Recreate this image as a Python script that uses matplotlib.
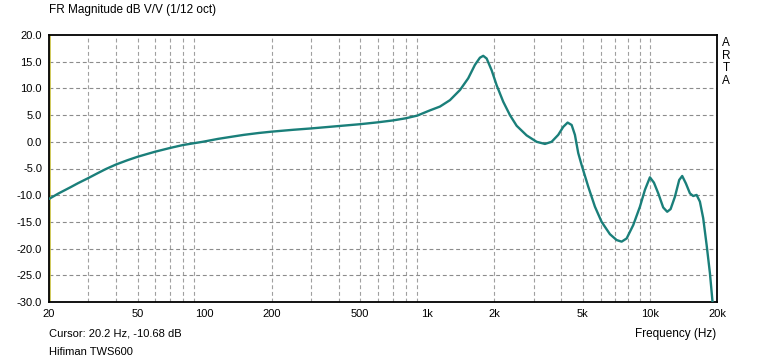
import numpy as np
import matplotlib.pyplot as plt
from matplotlib.ticker import FixedLocator, NullFormatter, NullLocator

plt.rcParams['font.family'] = ['Liberation Sans', 'DejaVu Sans']

# frequency response (Hz, dB)
freq = [20, 22, 25, 27, 30, 33, 36, 40, 45, 50, 55, 60, 70, 80, 90, 98, 115, 130, 150,
        175, 200, 250, 300, 400, 500, 600, 700, 800, 900,
        1030, 1140, 1264, 1402, 1527, 1636, 1723, 1783, 1847, 1945, 2048,
        2193, 2350, 2519, 2793, 3097, 3375, 3616, 3873, 4079, 4267, 4449, 4602, 4762,
        4932, 5282, 5660, 6066, 6609, 7084, 7459, 7856, 8410, 9014, 9492, 9995, 10418,
        10894, 11467, 11951, 12378, 12941, 13530, 13957, 14500, 15114, 15637, 16196,
        16758, 17340, 17963, 18589, 19118]
mag = [-10.7, -9.7, -8.5, -7.75, -6.8, -5.9, -5.1, -4.25, -3.45, -2.8, -2.3, -1.85, -1.15,
       -0.6, -0.25, 0.0, 0.55, 0.9, 1.3, 1.65, 1.9, 2.25, 2.5, 2.95, 3.3, 3.65, 4.0, 4.4,
       4.9, 5.9, 6.6, 7.8, 9.7, 11.9, 14.4, 15.75,
       16.1, 15.6, 13.4, 10.6, 7.5, 5.0, 3.0, 1.2, 0.0, -0.4, 0.0, 1.3, 2.8, 3.6, 3.15,
       1.3, -2.1, -4.35, -8.4, -12.15, -15.0, -17.3, -18.4, -18.7, -18.1, -15.6, -12.15,
       -9.0, -6.65, -7.65, -9.65, -12.3, -13.1, -12.6, -10.3, -7.15, -6.4, -7.8, -9.65,
       -10.15, -9.95, -11.2, -14.3, -19.3, -24.6, -30.2]

xticks = [20, 50, 100, 200, 500, 1000, 2000, 5000, 10000, 20000]
xlabels = ['20', '50', '100', '200', '500', '1k', '2k', '5k', '10k', '20k']
yticks = [20, 15, 10, 5, 0, -5, -10, -15, -20, -25, -30]

# vertical grid: 2..9 of each decade up to 10k
grid_x = [m * d for d in (10, 100, 1000) for m in range(2, 10) if 20 < m * d] + [10000]

fig = plt.figure(figsize=(7.65, 3.62), dpi=100)
ax = fig.add_axes([49 / 765, 1 - 302 / 362, 668 / 765, 267 / 362])

ax.set_xscale('log')
ax.set_xlim(20, 20000)
ax.set_ylim(-30, 20)

for g in grid_x:
    ax.axvline(g, color='#a0a0a0', linestyle=(0, (3.5, 2.5)), linewidth=0.8, zorder=1)
for g in yticks[1:-1]:
    ax.axhline(g, color='#8c8c8c', linestyle=(0, (3.5, 2.5)), linewidth=0.8, zorder=1)

ax.axvline(20.2, color='#c8c040', linewidth=1.2, zorder=2)
ax.plot(freq, mag, color='#1a7f7a', linewidth=1.7, zorder=3,
        solid_joinstyle='round', solid_capstyle='round')

ax.xaxis.set_major_locator(FixedLocator(xticks))
ax.set_xticklabels(xlabels)
ax.xaxis.set_minor_locator(NullLocator())
ax.xaxis.set_minor_formatter(NullFormatter())
ax.set_yticks(yticks)
ax.set_yticklabels([f'{v:.1f}' for v in yticks])
ax.tick_params(length=0, labelsize=8, pad=5)

for s in ax.spines.values():
    s.set_linewidth(1.3)
    s.set_color('black')

fig.text(49 / 765, 1 - 10 / 362, 'FR Magnitude dB V/V (1/12 oct)', fontsize=8.5, va='center', ha='left')
fig.text(726 / 765, 1 - 62 / 362, 'A\nR\nT\nA', fontsize=8.5, va='center', ha='center', linespacing=1.1)
fig.text(49 / 765, 1 - 334 / 362, 'Cursor: 20.2 Hz, -10.68 dB', fontsize=8, va='center', ha='left')
fig.text(49 / 765, 1 - 352 / 362, 'Hifiman TWS600', fontsize=8, va='center', ha='left')
fig.text(716 / 765, 1 - 334 / 362, 'Frequency (Hz)', fontsize=8.5, va='center', ha='right')

fig.savefig('out.png', dpi=100)
